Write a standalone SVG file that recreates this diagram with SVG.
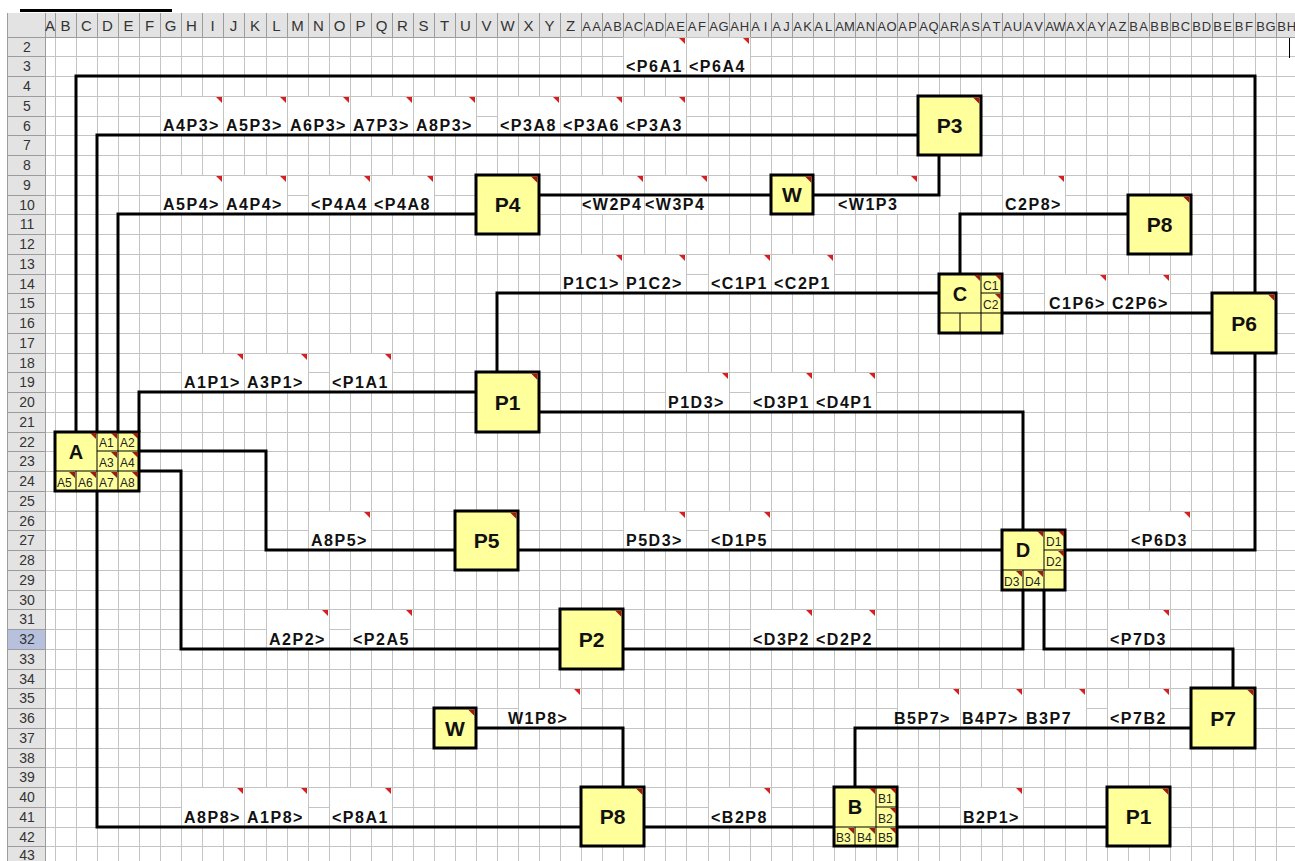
<svg xmlns="http://www.w3.org/2000/svg" width="1295" height="861" viewBox="0 0 1295 861">
<defs>
<style>
.grid{fill:none;stroke:#c4c4c4;stroke-width:1;shape-rendering:crispEdges}
.hdr{fill:#e3e3e3}
.hl{fill:none;stroke:#9c9c9c;stroke-width:1;shape-rendering:crispEdges}
.ht{font-family:"Liberation Sans",Arial,sans-serif;font-size:14px;fill:#333;text-anchor:middle}
.lb{fill:#fff;stroke:#c4c4c4;stroke-width:1;shape-rendering:crispEdges}
.lt{font-family:"Liberation Sans",Arial,sans-serif;font-weight:bold;font-size:16px;letter-spacing:1.5px;fill:#111}
.nd{fill:#ffff9c;stroke:#000;stroke-width:3}
.sc{fill:none;stroke:#000;stroke-width:1}
.nt{font-family:"Liberation Sans",Arial,sans-serif;font-weight:bold;font-size:21px;fill:#111;text-anchor:middle}
.st{font-family:"Liberation Sans",Arial,sans-serif;font-size:12px;fill:#222}
.rt{fill:#d81e1e}
.dt{fill:#9b1c10}
.w{fill:none;stroke:#000;stroke-width:3}
</style>
<path id="t" d="M-7 1H-1V7Z"/>
<path id="tn" d="M-8 1.5H-1.5V8Z"/>
</defs>
<rect width="1295" height="861" fill="#fff"/>
<g id="sheet">
<path class="grid" d="M45 37V861M55 37V861M76 37V861M97 37V861M118 37V861M139 37V861M160 37V861M181 37V861M202 37V861M223 37V861M244 37V861M266 37V861M287 37V861M308 37V861M329 37V861M350 37V861M371 37V861M392 37V861M413 37V861M434 37V861M455 37V861M476 37V861M497 37V861M518 37V861M539 37V861M560 37V861M581 37V861M602 37V861M623 37V861M644 37V861M665 37V861M686 37V861M708 37V861M729 37V861M750 37V861M771 37V861M792 37V861M813 37V861M834 37V861M855 37V861M876 37V861M897 37V861M918 37V861M939 37V861M960 37V861M981 37V861M1002 37V861M1023 37V861M1044 37V861M1065 37V861M1086 37V861M1107 37V861M1128 37V861M1149 37V861M1170 37V861M1191 37V861M1212 37V861M1233 37V861M1255 37V861M1276 37V861M45 56H1295M45 76H1295M45 96H1295M45 116H1295M45 135H1295M45 155H1295M45 175H1295M45 195H1295M45 214H1295M45 234H1295M45 254H1295M45 274H1295M45 293H1295M45 313H1295M45 333H1295M45 353H1295M45 372H1295M45 392H1295M45 412H1295M45 432H1295M45 451H1295M45 471H1295M45 491H1295M45 511H1295M45 530H1295M45 550H1295M45 570H1295M45 590H1295M45 609H1295M45 629H1295M45 649H1295M45 669H1295M45 688H1295M45 708H1295M45 728H1295M45 748H1295M45 767H1295M45 787H1295M45 807H1295M45 827H1295M45 846H1295"/>
<rect class="hdr" x="7" y="13" width="1288" height="24"/>
<rect class="hdr" x="7" y="37" width="38" height="824"/>
<rect x="7" y="629" width="38" height="20" fill="#b7c1dd"/>
<path class="hl" d="M7 13V861M45 13V861M7 37H1295M55 13V37M76 13V37M97 13V37M118 13V37M139 13V37M160 13V37M181 13V37M202 13V37M223 13V37M244 13V37M266 13V37M287 13V37M308 13V37M329 13V37M350 13V37M371 13V37M392 13V37M413 13V37M434 13V37M455 13V37M476 13V37M497 13V37M518 13V37M539 13V37M560 13V37M581 13V37M602 13V37M623 13V37M644 13V37M665 13V37M686 13V37M708 13V37M729 13V37M750 13V37M771 13V37M792 13V37M813 13V37M834 13V37M855 13V37M876 13V37M897 13V37M918 13V37M939 13V37M960 13V37M981 13V37M1002 13V37M1023 13V37M1044 13V37M1065 13V37M1086 13V37M1107 13V37M1128 13V37M1149 13V37M1170 13V37M1191 13V37M1212 13V37M1233 13V37M1255 13V37M1276 13V37M7 56H45M7 76H45M7 96H45M7 116H45M7 135H45M7 155H45M7 175H45M7 195H45M7 214H45M7 234H45M7 254H45M7 274H45M7 293H45M7 313H45M7 333H45M7 353H45M7 372H45M7 392H45M7 412H45M7 432H45M7 451H45M7 471H45M7 491H45M7 511H45M7 530H45M7 550H45M7 570H45M7 590H45M7 609H45M7 629H45M7 649H45M7 669H45M7 688H45M7 708H45M7 728H45M7 748H45M7 767H45M7 787H45M7 807H45M7 827H45M7 846H45"/>
<text class="ht" style="font-size:15px" x="50 65.5 86.5 107.5 128.5 149.5 170.5 191.5 212.5 233.5 255 276.5 297.5 318.5 339.5 360.5 381.5 402.5 423.5 444.5 465.5 486.5 507.5 528.5 549.5 570.5" y="31">ABCDEFGHIJKLMNOPQRSTUVWXYZ</text>
<text class="ht" style="font-size:13px" x="586.5 596.5 607.5 617.5 628.5 638.5 649.5 659.5 670.5 680.5 692 702 713.5 723.5 734.5 744.5 755.5 765.5 776.5 786.5 797.5 807.5 818.5 828.5 839.5 849.5 860.5 870.5 881.5 891.5 902.5 912.5 923.5 933.5 944.5 954.5 965.5 975.5 986.5 996.5 1007.5 1017.5 1028.5 1038.5 1049.5 1059.5 1070.5 1080.5 1091.5 1101.5 1112.5 1122.5 1133.5 1143.5 1154.5 1164.5 1175.5 1185.5 1196.5 1206.5 1217.5 1227.5 1239 1249 1260.5 1270.5 1281.5 1291.5" y="31">AAABACADAEAFAGAHAIAJAKALAMANAOAPAQARASATAUAVAWAXAYAZBABBBCBDBEBFBGBH</text>
<g class="ht">
<text x="27" y="51.5">2</text><text x="27" y="71">3</text><text x="27" y="91">4</text><text x="27" y="111">5</text><text x="27" y="130.5">6</text><text x="27" y="150">7</text><text x="27" y="170">8</text><text x="27" y="190">9</text><text x="27" y="209.5">10</text><text x="27" y="229">11</text><text x="27" y="249">12</text><text x="27" y="269">13</text><text x="27" y="288.5">14</text><text x="27" y="308">15</text><text x="27" y="328">16</text><text x="27" y="348">17</text><text x="27" y="367.5">18</text><text x="27" y="387">19</text><text x="27" y="407">20</text><text x="27" y="427">21</text><text x="27" y="446.5">22</text><text x="27" y="466">23</text><text x="27" y="486">24</text><text x="27" y="506">25</text><text x="27" y="525.5">26</text><text x="27" y="545">27</text><text x="27" y="565">28</text><text x="27" y="585">29</text><text x="27" y="604.5">30</text><text x="27" y="624">31</text><text x="27" y="644">32</text><text x="27" y="664">33</text><text x="27" y="683.5">34</text><text x="27" y="703">35</text><text x="27" y="723">36</text><text x="27" y="743">37</text><text x="27" y="762.5">38</text><text x="27" y="782">39</text><text x="27" y="802">40</text><text x="27" y="822">41</text><text x="27" y="841.5">42</text><text x="27" y="860">43</text>
</g>
<rect x="20" y="9" width="152" height="3" fill="#000"/>
<line x1="1289.5" y1="38" x2="1289.5" y2="58" stroke="#000" stroke-width="1"/>
</g>
<g id="labels">
<rect class="lb" x="623" y="37" width="63" height="39"/><use href="#t" class="rt" x="686" y="37"/><text class="lt" x="626" y="72">&lt;P6A1</text>
<rect class="lb" x="686" y="37" width="64" height="39"/><use href="#t" class="rt" x="750" y="37"/><text class="lt" x="689" y="72">&lt;P6A4</text>
<rect class="lb" x="160" y="96" width="63" height="39"/><use href="#t" class="rt" x="223" y="96"/><text class="lt" x="163" y="131">A4P3&gt;</text>
<rect class="lb" x="223" y="96" width="64" height="39"/><use href="#t" class="rt" x="287" y="96"/><text class="lt" x="226" y="131">A5P3&gt;</text>
<rect class="lb" x="287" y="96" width="63" height="39"/><use href="#t" class="rt" x="350" y="96"/><text class="lt" x="290" y="131">A6P3&gt;</text>
<rect class="lb" x="350" y="96" width="63" height="39"/><use href="#t" class="rt" x="413" y="96"/><text class="lt" x="353" y="131">A7P3&gt;</text>
<rect class="lb" x="413" y="96" width="63" height="39"/><use href="#t" class="rt" x="476" y="96"/><text class="lt" x="416" y="131">A8P3&gt;</text>
<rect class="lb" x="497" y="96" width="63" height="39"/><use href="#t" class="rt" x="560" y="96"/><text class="lt" x="500" y="131">&lt;P3A8</text>
<rect class="lb" x="560" y="96" width="63" height="39"/><use href="#t" class="rt" x="623" y="96"/><text class="lt" x="563" y="131">&lt;P3A6</text>
<rect class="lb" x="623" y="96" width="63" height="39"/><use href="#t" class="rt" x="686" y="96"/><text class="lt" x="626" y="131">&lt;P3A3</text>
<rect class="lb" x="160" y="175" width="63" height="39"/><use href="#t" class="rt" x="223" y="175"/><text class="lt" x="163" y="210">A5P4&gt;</text>
<rect class="lb" x="223" y="175" width="64" height="39"/><use href="#t" class="rt" x="287" y="175"/><text class="lt" x="226" y="210">A4P4&gt;</text>
<rect class="lb" x="308" y="175" width="63" height="39"/><use href="#t" class="rt" x="371" y="175"/><text class="lt" x="311" y="210">&lt;P4A4</text>
<rect class="lb" x="371" y="175" width="63" height="39"/><use href="#t" class="rt" x="434" y="175"/><text class="lt" x="374" y="210">&lt;P4A8</text>
<rect class="lb" x="581" y="175" width="63" height="39"/><use href="#t" class="rt" x="644" y="175"/><text class="lt" x="582" y="210">&lt;W2P4</text>
<rect class="lb" x="644" y="175" width="64" height="39"/><use href="#t" class="rt" x="708" y="175"/><text class="lt" x="645" y="210">&lt;W3P4</text>
<rect class="lb" x="855" y="175" width="63" height="39"/><use href="#t" class="rt" x="918" y="175"/><text class="lt" x="838" y="210">&lt;W1P3</text>
<rect class="lb" x="1002" y="175" width="63" height="39"/><use href="#t" class="rt" x="1065" y="175"/><text class="lt" x="1005" y="210">C2P8&gt;</text>
<rect class="lb" x="560" y="254" width="63" height="39"/><use href="#t" class="rt" x="623" y="254"/><text class="lt" x="563" y="289">P1C1&gt;</text>
<rect class="lb" x="623" y="254" width="63" height="39"/><use href="#t" class="rt" x="686" y="254"/><text class="lt" x="626" y="289">P1C2&gt;</text>
<rect class="lb" x="708" y="254" width="63" height="39"/><use href="#t" class="rt" x="771" y="254"/><text class="lt" x="711" y="289">&lt;C1P1</text>
<rect class="lb" x="771" y="254" width="63" height="39"/><use href="#t" class="rt" x="834" y="254"/><text class="lt" x="774" y="289">&lt;C2P1</text>
<rect class="lb" x="1044" y="274" width="63" height="39"/><use href="#t" class="rt" x="1107" y="274"/><text class="lt" x="1049" y="309">C1P6&gt;</text>
<rect class="lb" x="1107" y="274" width="63" height="39"/><use href="#t" class="rt" x="1170" y="274"/><text class="lt" x="1112" y="309">C2P6&gt;</text>
<rect class="lb" x="181" y="353" width="63" height="39"/><use href="#t" class="rt" x="244" y="353"/><text class="lt" x="184" y="388">A1P1&gt;</text>
<rect class="lb" x="244" y="353" width="64" height="39"/><use href="#t" class="rt" x="308" y="353"/><text class="lt" x="247" y="388">A3P1&gt;</text>
<rect class="lb" x="329" y="353" width="63" height="39"/><use href="#t" class="rt" x="392" y="353"/><text class="lt" x="332" y="388">&lt;P1A1</text>
<rect class="lb" x="665" y="372" width="64" height="40"/><use href="#t" class="rt" x="729" y="372"/><text class="lt" x="668" y="408">P1D3&gt;</text>
<rect class="lb" x="750" y="372" width="63" height="40"/><use href="#t" class="rt" x="813" y="372"/><text class="lt" x="753" y="408">&lt;D3P1</text>
<rect class="lb" x="813" y="372" width="63" height="40"/><use href="#t" class="rt" x="876" y="372"/><text class="lt" x="816" y="408">&lt;D4P1</text>
<rect class="lb" x="308" y="511" width="63" height="39"/><use href="#t" class="rt" x="371" y="511"/><text class="lt" x="311" y="546">A8P5&gt;</text>
<rect class="lb" x="623" y="511" width="63" height="39"/><use href="#t" class="rt" x="686" y="511"/><text class="lt" x="626" y="546">P5D3&gt;</text>
<rect class="lb" x="708" y="511" width="63" height="39"/><use href="#t" class="rt" x="771" y="511"/><text class="lt" x="711" y="546">&lt;D1P5</text>
<rect class="lb" x="1128" y="511" width="63" height="39"/><use href="#t" class="rt" x="1191" y="511"/><text class="lt" x="1131" y="546">&lt;P6D3</text>
<rect class="lb" x="266" y="609" width="63" height="40"/><use href="#t" class="rt" x="329" y="609"/><text class="lt" x="269" y="645">A2P2&gt;</text>
<rect class="lb" x="350" y="609" width="63" height="40"/><use href="#t" class="rt" x="413" y="609"/><text class="lt" x="353" y="645">&lt;P2A5</text>
<rect class="lb" x="750" y="609" width="63" height="40"/><use href="#t" class="rt" x="813" y="609"/><text class="lt" x="753" y="645">&lt;D3P2</text>
<rect class="lb" x="813" y="609" width="63" height="40"/><use href="#t" class="rt" x="876" y="609"/><text class="lt" x="816" y="645">&lt;D2P2</text>
<rect class="lb" x="1107" y="609" width="63" height="40"/><use href="#t" class="rt" x="1170" y="609"/><text class="lt" x="1110" y="645">&lt;P7D3</text>
<rect class="lb" x="518" y="688" width="63" height="40"/><use href="#t" class="rt" x="581" y="688"/><text class="lt" x="508" y="724">W1P8&gt;</text>
<rect class="lb" x="897" y="688" width="63" height="40"/><use href="#t" class="rt" x="960" y="688"/><text class="lt" x="894" y="724">B5P7&gt;</text>
<rect class="lb" x="960" y="688" width="63" height="40"/><use href="#t" class="rt" x="1023" y="688"/><text class="lt" x="962" y="724">B4P7&gt;</text>
<rect class="lb" x="1023" y="688" width="63" height="40"/><use href="#t" class="rt" x="1086" y="688"/><text class="lt" x="1026" y="724">B3P7</text>
<rect class="lb" x="1107" y="688" width="63" height="40"/><use href="#t" class="rt" x="1170" y="688"/><text class="lt" x="1110" y="724">&lt;P7B2</text>
<rect class="lb" x="181" y="787" width="63" height="40"/><use href="#t" class="rt" x="244" y="787"/><text class="lt" x="184" y="823">A8P8&gt;</text>
<rect class="lb" x="244" y="787" width="64" height="40"/><use href="#t" class="rt" x="308" y="787"/><text class="lt" x="247" y="823">A1P8&gt;</text>
<rect class="lb" x="329" y="787" width="63" height="40"/><use href="#t" class="rt" x="392" y="787"/><text class="lt" x="332" y="823">&lt;P8A1</text>
<rect class="lb" x="708" y="787" width="63" height="40"/><use href="#t" class="rt" x="771" y="787"/><text class="lt" x="711" y="823">&lt;B2P8</text>
<rect class="lb" x="960" y="787" width="63" height="40"/><use href="#t" class="rt" x="1023" y="787"/><text class="lt" x="963" y="823">B2P1&gt;</text>
</g>
<g id="connectors" class="w">
<path d="M76 432V76H1255V293"/>
<path d="M1255 353V550H1065"/>
<path d="M97 432V135H918"/>
<path d="M118 432V214H476"/>
<path d="M139 432V392H476"/>
<path d="M139 451H266V550H455"/>
<path d="M518 550H1002"/>
<path d="M139 471H181V649H560"/>
<path d="M623 649H1023V590"/>
<path d="M539 195H771"/>
<path d="M813 195H939V155"/>
<path d="M497 372V293H939"/>
<path d="M960 274V214H1128"/>
<path d="M1002 313H1212"/>
<path d="M539 412H1023V530"/>
<path d="M1044 590V649H1233V688"/>
<path d="M1191 728H855V787"/>
<path d="M97 491V827H581"/>
<path d="M644 827H834"/>
<path d="M897 827H1107"/>
<path d="M476 728H623V787"/>
</g>
<g id="node-A">
<rect class="nd" x="55" y="432" width="84" height="59"/>
<path class="sc" d="M97 432V491M118 432V491M76 471V491M97 451H139M55 471H139"/>
<use href="#t" class="dt" x="97" y="432"/><use href="#t" class="dt" x="118" y="432"/><use href="#t" class="dt" x="139" y="432"/><use href="#t" class="dt" x="118" y="451"/><use href="#t" class="dt" x="139" y="451"/><use href="#t" class="dt" x="76" y="471"/><use href="#t" class="dt" x="97" y="471"/><use href="#t" class="dt" x="118" y="471"/><use href="#t" class="dt" x="139" y="471"/>
<text class="nt" style="font-size:20px" x="76" y="459">A</text>
<text class="st" x="99" y="447">A1</text><text class="st" x="120" y="447">A2</text><text class="st" x="99" y="467">A3</text><text class="st" x="120" y="467">A4</text><text class="st" x="57" y="487">A5</text><text class="st" x="78" y="487">A6</text><text class="st" x="99" y="487">A7</text><text class="st" x="120" y="487">A8</text>
</g>
<g id="node-C">
<rect class="nd" x="939" y="274" width="63" height="59"/>
<path class="sc" d="M981 274V333M960 313V333M981 293H1002M939 313H1002"/>
<use href="#t" class="dt" x="981" y="274"/><use href="#t" class="dt" x="1002" y="274"/><use href="#t" class="dt" x="1002" y="293"/>
<text class="nt" style="font-size:20px" x="960" y="301">C</text>
<text class="st" x="983" y="290">C1</text><text class="st" x="983" y="309">C2</text>
</g>
<g id="node-D">
<rect class="nd" x="1002" y="530" width="63" height="60"/>
<path class="sc" d="M1044 530V590M1023 570V590M1044 550H1065M1002 570H1065"/>
<use href="#t" class="dt" x="1044" y="530"/><use href="#t" class="dt" x="1065" y="530"/><use href="#t" class="dt" x="1065" y="550"/><use href="#t" class="dt" x="1023" y="570"/><use href="#t" class="dt" x="1044" y="570"/>
<text class="nt" style="font-size:20px" x="1023" y="557">D</text>
<text class="st" x="1046" y="546">D1</text><text class="st" x="1046" y="566">D2</text><text class="st" x="1004" y="586">D3</text><text class="st" x="1025" y="586">D4</text>
</g>
<g id="node-B">
<rect class="nd" x="834" y="787" width="63" height="59"/>
<path class="sc" d="M876 787V846M855 827V846M876 807H897M834 827H897"/>
<use href="#t" class="dt" x="876" y="787"/><use href="#t" class="dt" x="897" y="787"/><use href="#t" class="dt" x="897" y="807"/><use href="#t" class="dt" x="855" y="827"/><use href="#t" class="dt" x="876" y="827"/><use href="#t" class="dt" x="897" y="827"/>
<text class="nt" style="font-size:20px" x="855" y="814">B</text>
<text class="st" x="878" y="803">B1</text><text class="st" x="878" y="823">B2</text><text class="st" x="836" y="842">B3</text><text class="st" x="857" y="842">B4</text><text class="st" x="878" y="842">B5</text>
</g>
<g id="node-P3"><rect class="nd" x="918" y="96" width="63" height="59"/><use href="#tn" class="dt" x="981" y="96"/><text class="nt" x="949.5" y="133">P3</text></g>
<g id="node-P4"><rect class="nd" x="476" y="175" width="63" height="59"/><use href="#tn" class="dt" x="539" y="175"/><text class="nt" x="507.5" y="212">P4</text></g>
<g id="node-W-top"><rect class="nd" x="771" y="175" width="42" height="39"/><use href="#tn" class="dt" x="813" y="175"/><text class="nt" x="792" y="202">W</text></g>
<g id="node-P8-top"><rect class="nd" x="1128" y="195" width="63" height="59"/><use href="#tn" class="dt" x="1191" y="195"/><text class="nt" x="1159.5" y="232">P8</text></g>
<g id="node-P6"><rect class="nd" x="1212" y="293" width="64" height="60"/><use href="#tn" class="dt" x="1276" y="293"/><text class="nt" x="1244" y="330.5">P6</text></g>
<g id="node-P1-top"><rect class="nd" x="476" y="372" width="63" height="60"/><use href="#tn" class="dt" x="539" y="372"/><text class="nt" x="507.5" y="409.5">P1</text></g>
<g id="node-P5"><rect class="nd" x="455" y="511" width="63" height="59"/><use href="#tn" class="dt" x="518" y="511"/><text class="nt" x="486.5" y="548">P5</text></g>
<g id="node-P2"><rect class="nd" x="560" y="609" width="63" height="60"/><use href="#tn" class="dt" x="623" y="609"/><text class="nt" x="591.5" y="646.5">P2</text></g>
<g id="node-P7"><rect class="nd" x="1191" y="688" width="64" height="60"/><use href="#tn" class="dt" x="1255" y="688"/><text class="nt" x="1223" y="725.5">P7</text></g>
<g id="node-W-bottom"><rect class="nd" x="434" y="708" width="42" height="40"/><use href="#tn" class="dt" x="476" y="708"/><text class="nt" x="455" y="735.5">W</text></g>
<g id="node-P8-bottom"><rect class="nd" x="581" y="787" width="63" height="59"/><use href="#tn" class="dt" x="644" y="787"/><text class="nt" x="612.5" y="824">P8</text></g>
<g id="node-P1-bottom"><rect class="nd" x="1107" y="787" width="63" height="59"/><use href="#tn" class="dt" x="1170" y="787"/><text class="nt" x="1138.5" y="824">P1</text></g>
</svg>
